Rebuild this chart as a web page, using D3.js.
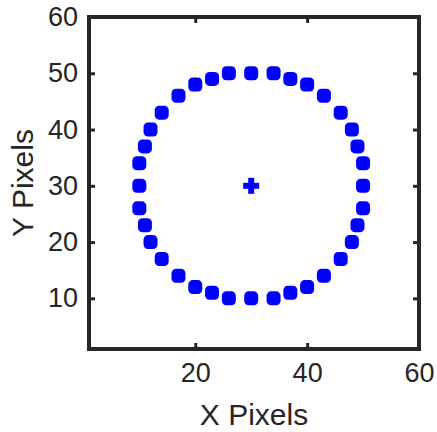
<!DOCTYPE html>
<html>
<head>
<meta charset="utf-8">
<script src="https://cdn.jsdelivr.net/npm/d3@7/dist/d3.min.js"></script>
<style>
  html, body { margin: 0; padding: 0; background: #fff; }
  svg { display: block; }
  text { font-family: "Liberation Sans", Arial, Helvetica, sans-serif; fill: #262626; }
</style>
</head>
<body>
<script>
// Ring of sampled pixel coordinates around a centre point
const ringX = [50, 50, 49, 48, 46, 43, 40, 37, 34, 30, 26, 23, 20, 17, 14, 12, 11, 10,
               10, 10, 11, 12, 14, 17, 20, 23, 26, 30, 34, 37, 40, 43, 46, 48, 49, 50];
const ringY = [30, 34, 37, 40, 43, 46, 48, 49, 50, 50, 50, 49, 48, 46, 43, 40, 37, 34,
               30, 26, 23, 20, 17, 14, 12, 11, 10, 10, 10, 11, 12, 14, 17, 20, 23, 26];
const centerX = [30];
const centerY = [30];
const xTicks = [20, 40, 60];
const yTicks = [10, 20, 30, 40, 50, 60];
const xLabel = "X Pixels";
const yLabel = "Y Pixels";

const W = 437, H = 432;
const plotL = 89, plotR = 419, plotT = 17, plotB = 349;
const axisColor = "#262626";
const markColor = "#0000ff";

const svg = d3.select("body").append("svg").attr("width", W).attr("height", H);

const x = d3.scaleLinear().domain([1, 60]).range([plotL, plotR]);
const y = d3.scaleLinear().domain([1, 60]).range([plotB, plotT]);

// Points
const pts = ringX.map((v, i) => ({ x: v, y: ringY[i] }));
const ms = 14;
svg.append("g").selectAll("rect").data(pts).join("rect")
  .attr("x", d => x(d.x) - ms / 2)
  .attr("y", d => y(d.y) - ms / 2)
  .attr("width", ms).attr("height", ms)
  .attr("rx", 4.5).attr("ry", 4.5)
  .attr("fill", markColor);

// Centre cross
const cg = svg.append("g");
centerX.forEach((cx, i) => {
  const px = x(cx), py = y(centerY[i]);
  const arm = 8, th = 6;
  cg.append("rect").attr("x", px - arm).attr("y", py - th / 2).attr("width", 2 * arm).attr("height", th).attr("fill", markColor);
  cg.append("rect").attr("x", px - th / 2).attr("y", py - arm).attr("width", th).attr("height", 2 * arm).attr("fill", markColor);
});

// Axes (box with inward ticks on all sides)
const tickLen = 6;
const styleAxis = g => {
  g.select(".domain").remove();
  g.selectAll(".tick line").attr("stroke", axisColor).attr("stroke-width", 3);
};

svg.append("g").attr("transform", `translate(0,${plotB})`)
  .call(d3.axisBottom(x).tickValues(xTicks).tickSize(-tickLen).tickPadding(14).tickFormat(d3.format("d")))
  .call(styleAxis)
  .call(g => g.selectAll(".tick text").attr("font-size", 27).attr("fill", axisColor)
    .attr("font-family", '"Liberation Sans", Arial, sans-serif'));

svg.append("g").attr("transform", `translate(0,${plotT})`)
  .call(d3.axisTop(x).tickValues(xTicks).tickSize(-tickLen).tickFormat(""))
  .call(styleAxis);

svg.append("g").attr("transform", `translate(${plotL},0)`)
  .call(d3.axisLeft(y).tickValues(yTicks).tickSize(-tickLen).tickPadding(11).tickFormat(d3.format("d")))
  .call(styleAxis)
  .call(g => g.selectAll(".tick text").attr("font-size", 27).attr("fill", axisColor)
    .attr("font-family", '"Liberation Sans", Arial, sans-serif'));

svg.append("g").attr("transform", `translate(${plotR},0)`)
  .call(d3.axisRight(y).tickValues(yTicks).tickSize(-tickLen).tickFormat(""))
  .call(styleAxis);

// Box outline
svg.append("rect")
  .attr("x", plotL).attr("y", plotT)
  .attr("width", plotR - plotL).attr("height", plotB - plotT)
  .attr("fill", "none").attr("stroke", axisColor).attr("stroke-width", 4)
  .attr("stroke-linejoin", "miter");

// Axis titles
svg.append("text")
  .attr("x", (plotL + plotR) / 2).attr("y", 425)
  .attr("text-anchor", "middle").attr("font-size", 30)
  .text(xLabel);

svg.append("text")
  .attr("transform", `translate(33,${(plotT + plotB) / 2}) rotate(-90)`)
  .attr("text-anchor", "middle").attr("font-size", 30)
  .text(yLabel);
</script>
</body>
</html>
